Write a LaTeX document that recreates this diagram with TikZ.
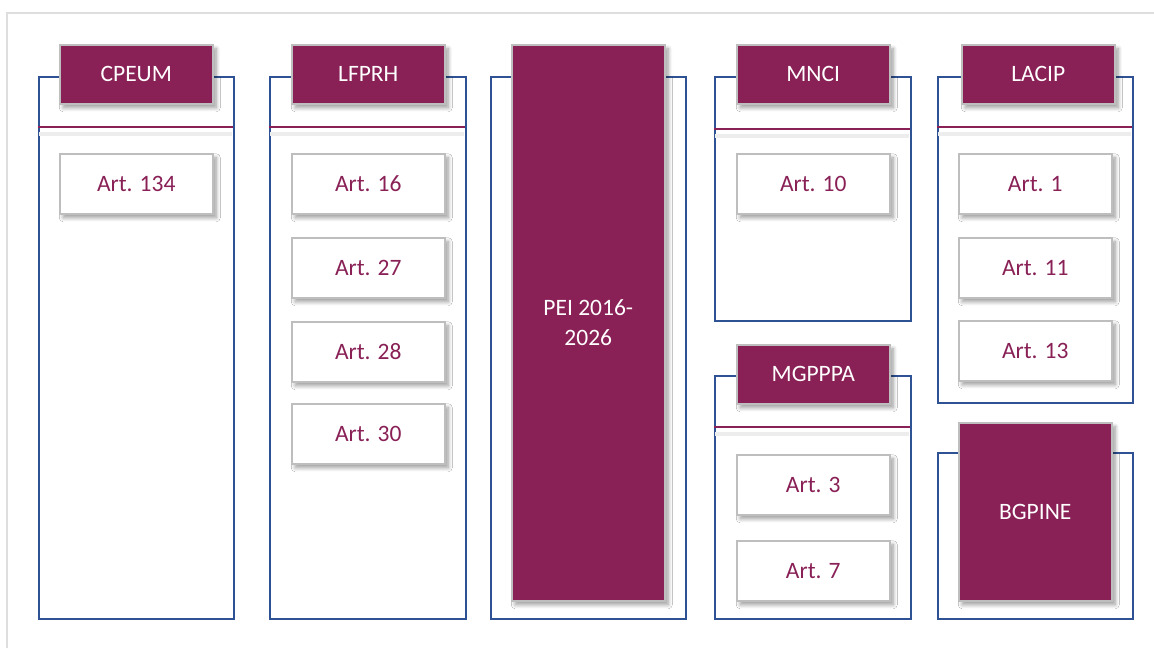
\documentclass[tikz,border=0pt]{standalone}
\usepackage{fontspec}
\setmainfont{Carlito}
\usetikzlibrary{shadows.blur}
\definecolor{purpleC}{RGB}{137,33,87}
\definecolor{blueC}{RGB}{47,82,148}
\definecolor{edgeC}{RGB}{190,190,190}
\begin{document}
\begin{tikzpicture}[x=1pt,y=-1pt,
  framebox/.style={draw=blueC, line width=1.6pt, fill=white, inner sep=0pt, anchor=north west},
  shad/.style={blur shadow={shadow xshift=3.5pt, shadow yshift=-4pt, shadow blur radius=4pt, shadow blur steps=8, shadow opacity=40}},
  hdr/.style={fill=purpleC, draw=edgeC, line width=1.5pt, text=white, inner sep=0pt, anchor=north west, minimum width=153pt, minimum height=59pt, font=\fontsize{23.5}{27}\selectfont, shad},
  art/.style={fill=white, draw=edgeC, line width=1.5pt, text=purpleC, inner sep=0pt, anchor=north west, minimum width=153pt, minimum height=60pt, font=\fontsize{23.5}{27}\selectfont, shad},
  sepline/.style={draw=purpleC, line width=1.5pt},
  sepshadow/.style={draw=black!7, line width=4pt}
]
\useasboundingbox (0,0) rectangle (1154,648);
% outer frame
\coordinate (fa) at (7,648);
\coordinate (fb) at (7,13);
\coordinate (fc) at (1154,13);
\draw[black!13, line width=2pt] (fa) -- (fb) -- (fc);

% column 1
\node[framebox, minimum width=195pt, minimum height=542pt] (f1) at (38,76) {};
\coordinate (s1a) at (38,127); \coordinate (s1b) at (233,127);
\coordinate (h1a) at (39,134); \coordinate (h1b) at (232,134);
\draw[sepshadow] (h1a) -- (h1b);
\draw[sepline] (s1a) -- (s1b);
\node[hdr] (h1) at (59,44) {CPEUM};
\node[art] (a1) at (59,153) {Art. 134};

% column 2
\node[framebox, minimum width=196pt, minimum height=542pt] (f2) at (269,76) {};
\coordinate (s2a) at (269,127); \coordinate (s2b) at (465,127);
\coordinate (h2a) at (270,134); \coordinate (h2b) at (464,134);
\draw[sepshadow] (h2a) -- (h2b);
\draw[sepline] (s2a) -- (s2b);
\node[hdr] (h2) at (291,44) {LFPRH};
\node[art] (a21) at (291,153) {Art. 16};
\node[art] (a22) at (291,237) {Art. 27};
\node[art] (a23) at (291,321) {Art. 28};
\node[art] (a24) at (291,403) {Art. 30};

% column 3
\node[framebox, minimum width=195pt, minimum height=542pt] (f3) at (490,76) {};
\node[hdr, minimum height=556pt, align=center, font=\fontsize{23.5}{30}\selectfont] (h3) at (511,44) {PEI 2016-\\2026};

% column 4 upper
\node[framebox, minimum width=196pt, minimum height=244pt] (f4) at (714,76) {};
\coordinate (s4a) at (714,129); \coordinate (s4b) at (910,129);
\coordinate (h4a) at (715,136); \coordinate (h4b) at (909,136);
\draw[sepshadow] (h4a) -- (h4b);
\draw[sepline] (s4a) -- (s4b);
\node[hdr] (h4) at (736,44) {MNCI};
\node[art] (a41) at (736,153) {Art. 10};

% column 4 lower
\node[framebox, minimum width=196pt, minimum height=243pt] (f5) at (714,375) {};
\coordinate (s5a) at (714,427); \coordinate (s5b) at (910,427);
\coordinate (h5a) at (715,434); \coordinate (h5b) at (909,434);
\draw[sepshadow] (h5a) -- (h5b);
\draw[sepline] (s5a) -- (s5b);
\node[hdr] (h5) at (736,344) {MGPPPA};
\node[art] (a51) at (736,454) {Art. 3};
\node[art] (a52) at (736,540) {Art. 7};

% column 5 upper
\node[framebox, minimum width=195pt, minimum height=326pt] (f6) at (937,76) {};
\coordinate (s6a) at (937,127); \coordinate (s6b) at (1132,127);
\coordinate (h6a) at (938,134); \coordinate (h6b) at (1131,134);
\draw[sepshadow] (h6a) -- (h6b);
\draw[sepline] (s6a) -- (s6b);
\node[hdr] (h6) at (961,44) {LACIP};
\node[art] (a61) at (958,153) {Art. 1};
\node[art] (a62) at (958,237) {Art. 11};
\node[art] (a63) at (958,320) {Art. 13};

% column 5 lower
\node[framebox, minimum width=195pt, minimum height=166pt] (f7) at (937,452) {};
\node[hdr, minimum height=178pt] (h7) at (958,422) {BGPINE};
\end{tikzpicture}
\end{document}
